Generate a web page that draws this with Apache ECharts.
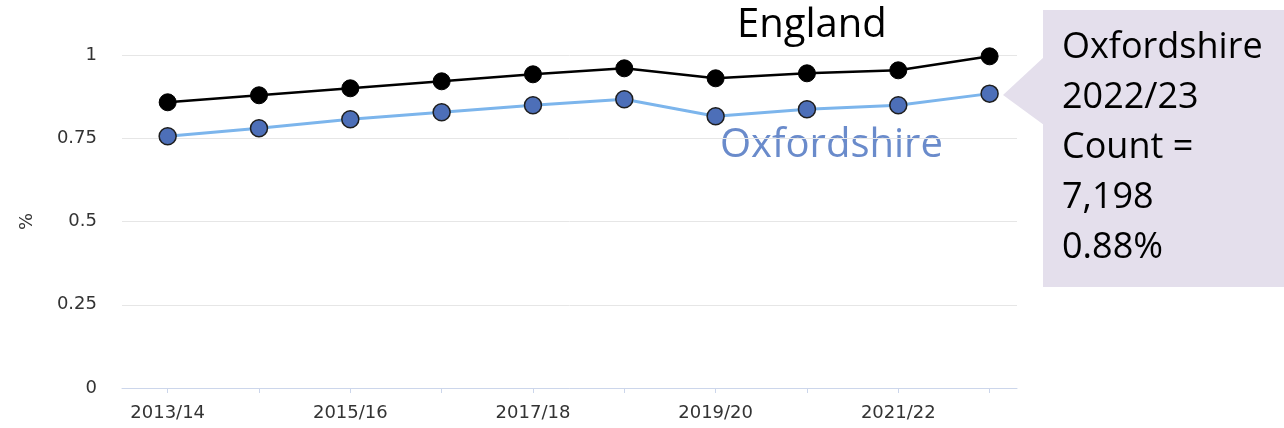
<!DOCTYPE html>
<html>
<head>
<meta charset="utf-8">
<script src="https://cdn.jsdelivr.net/npm/echarts@6/dist/echarts.min.js"></script>
<style>
  html, body { margin: 0; padding: 0; background: #fff; }
  #chart { width: 1284px; height: 428px; }
</style>
</head>
<body>
<div id="chart"></div>
<script>
// financial years along the x axis
const years = ['2013/14', '2014/15', '2015/16', '2016/17', '2017/18',
               '2018/19', '2019/20', '2020/21', '2021/22', '2022/23'];
// only every other year gets a label
const labelledYears = [0, 2, 4, 6, 8];
const englandPct = [0.858, 0.879, 0.900, 0.921, 0.942, 0.960, 0.930, 0.945, 0.954, 0.996];
const oxfordshirePct = [0.756, 0.780, 0.807, 0.828, 0.849, 0.867, 0.816, 0.837, 0.849, 0.884];
const yTicks = [0, 0.25, 0.5, 0.75, 1];

const chart = echarts.init(document.getElementById('chart'));

const labelFont = 'DejaVu Sans';
const bigFont = 'Open Sans';

const option = {
    animation: false,
    grid: { left: 122, right: 267, top: 55, bottom: 40 },
    xAxis: {
        type: 'value',
        min: -0.5,
        max: 9.3,
        axisLine: { lineStyle: { color: '#ccd6eb', width: 1 } },
        axisTick: {
            show: true,
            length: 5,
            lineStyle: { color: '#ccd6eb' },
            customValues: years.map((y, i) => i)
        },
        axisLabel: {
            customValues: labelledYears,
            formatter: (v) => years[Math.round(v)],
            color: '#333',
            fontFamily: labelFont,
            fontSize: 18,
            margin: 16
        },
        splitLine: { show: false }
    },
    yAxis: {
        type: 'value',
        min: yTicks[0],
        max: yTicks[yTicks.length - 1],
        interval: 0.25,
        name: '%',
        nameLocation: 'middle',
        nameGap: 86,
        nameTextStyle: { color: '#333', fontFamily: labelFont, fontSize: 18 },
        axisLine: { show: false },
        axisTick: { show: false },
        axisLabel: { color: '#333', fontFamily: labelFont, fontSize: 18, margin: 25 },
        splitLine: { lineStyle: { color: '#e6e6e6', width: 1 } }
    },
    series: [
        {
            name: 'England',
            type: 'line',
            data: englandPct.map((v, i) => [i, v]),
            symbol: 'circle',
            symbolSize: 17,
            lineStyle: { color: '#000', width: 2.5 },
            itemStyle: { color: '#000', borderColor: '#000', borderWidth: 1 },
            z: 3
        },
        {
            name: 'Oxfordshire',
            type: 'line',
            data: oxfordshirePct.map((v, i) => [i, v]),
            symbol: 'circle',
            symbolSize: 17,
            lineStyle: { color: '#7cb5ec', width: 3 },
            itemStyle: { color: '#4d6fb8', borderColor: '#1e1e1e', borderWidth: 1.5 },
            z: 4
        }
    ],
    graphic: [
        {
            type: 'text',
            left: 737, top: 6,
            style: { text: 'England', fill: '#000', font: '40px "' + bigFont + '"' }
        },
        {
            type: 'text',
            left: 720, top: 126,
            style: { text: 'Oxfordshire', fill: '#6a8bcb', font: '40px "' + bigFont + '"' }
        },
        {
            type: 'polygon',
            shape: { points: [[1003, 95], [1044, 57], [1044, 125]] },
            style: { fill: '#e4dfec' }
        },
        {
            type: 'rect',
            shape: { x: 1043, y: 10, width: 241, height: 277 },
            style: { fill: '#e4dfec' }
        },
        {
            type: 'text',
            left: 1062, top: 23,
            style: {
                text: 'Oxfordshire\n2022/23\nCount =\n7,198\n0.88%',
                fill: '#000',
                font: '36px "' + bigFont + '"',
                lineHeight: 50
            }
        }
    ]
};

chart.setOption(option);

window.addEventListener('resize', function () {
    chart.resize();
});
</script>
</body>
</html>
